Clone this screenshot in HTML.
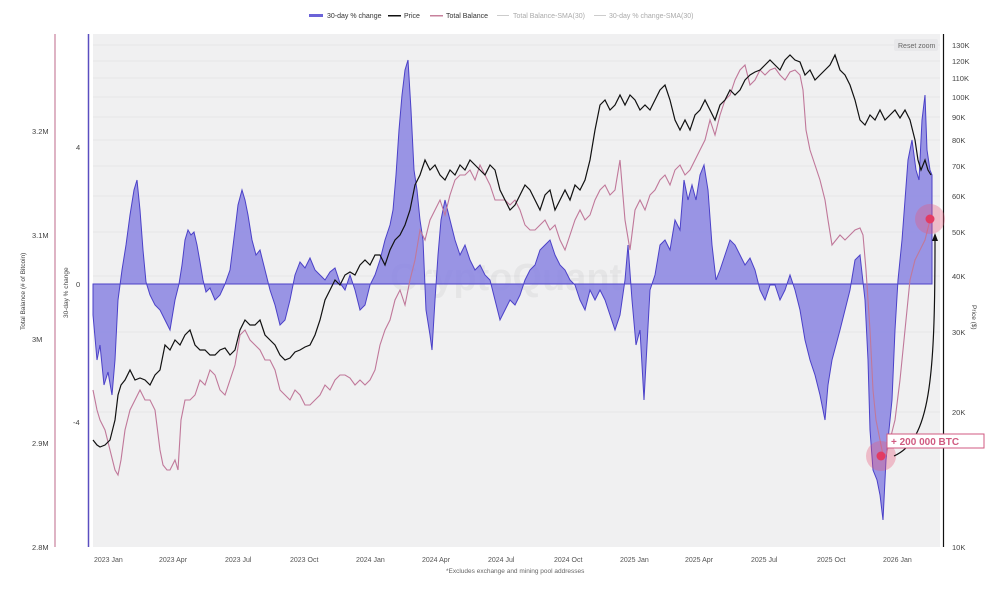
<!DOCTYPE html>
<html><head><meta charset="utf-8"><style>
body{margin:0;background:#fff;font-family:"Liberation Sans",sans-serif;}
svg text{font-family:"Liberation Sans",sans-serif;}
</style></head><body>
<svg width="1000" height="584" xmlns="http://www.w3.org/2000/svg">
<rect x="93" y="34" width="847" height="513" fill="#f0f0f1"/>
<g stroke="#e6e6e8" stroke-width="1">
<line x1="93" x2="940" y1="45" y2="45"/><line x1="93" x2="940" y1="61" y2="61"/><line x1="93" x2="940" y1="78" y2="78"/><line x1="93" x2="940" y1="97" y2="97"/><line x1="93" x2="940" y1="117" y2="117"/><line x1="93" x2="940" y1="140" y2="140"/><line x1="93" x2="940" y1="166" y2="166"/><line x1="93" x2="940" y1="196" y2="196"/><line x1="93" x2="940" y1="232" y2="232"/><line x1="93" x2="940" y1="276" y2="276"/><line x1="93" x2="940" y1="332" y2="332"/><line x1="93" x2="940" y1="412" y2="412"/>
</g>
<g font-size="7" fill="#333">
<rect x="309" y="14" width="14" height="3" fill="#6b63d8"/><text x="327" y="18">30-day % change</text>
<rect x="388" y="15" width="13" height="1.5" fill="#111"/><text x="404" y="18">Price</text>
<rect x="430" y="15" width="13" height="1.5" fill="#c7819c"/><text x="446" y="18">Total Balance</text>
<rect x="497" y="15" width="12" height="1" fill="#ccc"/><text x="513" y="18" fill="#aaa">Total Balance-SMA(30)</text>
<rect x="594" y="15" width="12" height="1" fill="#ccc"/><text x="609" y="18" fill="#aaa">30-day % change-SMA(30)</text>
</g>
<line x1="55" y1="34" x2="55" y2="547" stroke="#c7819c" stroke-width="1.2"/>
<line x1="88.5" y1="34" x2="88.5" y2="547" stroke="#5a4fc0" stroke-width="1.5"/>
<line x1="943.5" y1="34" x2="943.5" y2="547" stroke="#111" stroke-width="1.2"/>
<g font-size="7.5" fill="#444">
<text x="32" y="134">3.2M</text><text x="32" y="238">3.1M</text><text x="32" y="342">3M</text><text x="32" y="446">2.9M</text><text x="32" y="550">2.8M</text>
<text x="76" y="150">4</text><text x="76" y="287">0</text><text x="73" y="425">-4</text>
<text x="952" y="48">130K</text><text x="952" y="64">120K</text><text x="952" y="81">110K</text><text x="952" y="100">100K</text><text x="952" y="120">90K</text><text x="952" y="143">80K</text><text x="952" y="169">70K</text><text x="952" y="199">60K</text><text x="952" y="235">50K</text><text x="952" y="279">40K</text><text x="952" y="335">30K</text><text x="952" y="415">20K</text><text x="952" y="550">10K</text>
<g font-size="7" fill="#555">
<text x="94" y="562">2023 Jan</text><text x="159" y="562">2023 Apr</text><text x="225" y="562">2023 Jul</text><text x="290" y="562">2023 Oct</text><text x="356" y="562">2024 Jan</text><text x="422" y="562">2024 Apr</text><text x="488" y="562">2024 Jul</text><text x="554" y="562">2024 Oct</text><text x="620" y="562">2025 Jan</text><text x="685" y="562">2025 Apr</text><text x="751" y="562">2025 Jul</text><text x="817" y="562">2025 Oct</text><text x="883" y="562">2026 Jan</text>
</g>
<text x="446" y="573" font-size="6.5" fill="#666">*Excludes exchange and mining pool addresses</text>
<text transform="translate(25,330) rotate(-90)" font-size="6.5">Total Balance (# of Bitcoin)</text>
<text transform="translate(68,318) rotate(-90)" font-size="6.5">30-day % change</text>
<text transform="translate(972,305) rotate(90)" font-size="6.5">Price ($)</text>
</g>
<rect x="894" y="39" width="44" height="12" rx="2" fill="#e8e8ea"/>
<text x="898" y="48" font-size="7" fill="#666">Reset zoom</text>
<text x="390" y="290" font-size="38" fill="#000" opacity="0.04" font-weight="bold">CryptoQuant</text>
<polygon fill="#8a84e2" fill-opacity="0.85" stroke="#4b41c8" stroke-width="1" points="93,284 93,315 97,360 100,345 104,385 108,372 112,395 115,360 118,300 122,270 126,245 130,215 134,190 137,180 140,210 143,250 146,282 150,295 155,305 160,310 165,320 170,330 175,300 179,284 182,265 185,240 188,230 191,235 194,232 197,245 200,262 203,280 206,292 210,288 215,300 220,295 225,284 230,270 235,230 238,205 242,190 245,200 248,215 252,240 256,255 260,250 265,270 270,290 275,305 280,325 285,320 290,300 295,275 300,262 305,268 310,258 315,270 320,275 325,280 330,272 335,268 340,283 345,290 350,275 355,290 360,310 365,305 370,285 375,275 380,260 385,240 390,225 393,210 396,175 399,130 402,95 405,70 408,60 411,110 414,170 417,190 420,220 423,240 426,310 430,335 432,350 435,300 438,255 441,220 445,200 450,220 455,240 460,255 465,245 470,260 475,270 480,265 485,275 490,280 495,300 500,320 505,310 510,300 515,305 520,295 525,280 530,270 535,265 540,250 545,245 550,240 555,255 560,265 565,270 570,280 575,285 580,300 585,310 590,290 595,300 600,290 605,300 610,315 615,330 620,315 625,280 628,245 632,300 636,345 640,330 644,400 647,345 650,290 655,275 660,245 665,240 670,250 675,220 680,230 684,180 688,200 692,185 696,200 700,175 704,165 708,190 712,245 716,280 720,270 725,255 730,240 735,245 740,255 745,265 750,258 755,270 760,290 765,300 770,285 775,285 780,300 785,290 790,275 795,290 800,310 805,340 810,360 815,375 820,395 825,420 828,385 832,360 836,345 840,330 845,310 850,290 855,260 860,255 865,300 868,360 870,430 873,470 877,480 880,495 883,520 886,460 889,430 892,400 895,330 898,280 902,240 905,200 908,160 912,140 916,170 919,180 922,120 925,95 927,150 930,170 932,175 932,284"/>
<polyline fill="none" stroke="#c0789a" stroke-width="1.1" points="93,390 97,410 100,420 105,430 110,450 115,470 118,475 121,460 125,430 130,410 135,400 140,390 145,400 150,400 155,410 160,450 163,465 167,470 170,470 175,460 178,470 181,420 185,400 190,400 195,395 200,380 205,385 210,370 215,375 220,390 225,395 230,380 235,365 240,335 245,330 250,340 255,345 260,350 265,360 270,360 275,370 280,390 285,395 290,400 295,390 300,395 305,405 310,405 315,400 320,395 325,385 330,390 335,380 340,375 345,375 350,378 355,385 360,380 365,385 370,380 375,370 380,345 385,330 390,320 395,300 400,290 405,305 410,280 415,260 420,230 425,240 430,220 435,210 440,200 445,215 450,195 455,180 460,175 465,175 470,170 475,180 480,165 485,175 490,185 495,200 500,200 505,200 510,205 515,200 520,210 525,225 530,230 535,230 540,225 545,220 550,230 555,225 560,240 565,250 570,235 575,220 580,210 585,220 590,215 595,200 600,190 605,185 610,195 615,190 620,160 625,220 630,250 635,210 640,200 645,210 650,195 655,190 660,180 665,175 670,185 675,170 680,165 685,175 690,170 695,160 700,150 705,140 710,120 715,135 720,115 725,100 730,95 735,80 740,70 745,65 750,85 755,80 760,70 765,75 770,70 775,68 780,75 785,80 790,72 795,70 800,75 803,90 806,130 810,150 815,165 820,180 825,200 828,220 832,245 836,240 840,235 845,240 850,235 855,230 860,228 863,235 866,270 870,330 873,390 876,420 880,440 883,455 886,455 890,440 895,420 900,380 905,330 910,280 915,260 920,250 925,240 930,220"/>
<polyline fill="none" stroke="#111" stroke-width="1.2" points="93,440 97,445 100,447 105,445 110,440 115,420 118,395 121,385 125,380 130,370 135,380 140,378 145,380 150,385 155,375 160,370 165,345 170,350 175,340 180,345 185,335 190,330 195,345 200,350 205,350 210,355 215,355 220,350 225,348 230,355 235,350 240,330 245,320 250,325 255,325 260,320 265,335 270,340 275,345 280,355 285,360 290,358 295,352 300,350 305,347 310,345 315,335 320,320 325,300 330,290 335,280 340,285 345,275 350,272 355,275 360,265 365,260 370,265 375,255 380,255 385,265 390,250 395,240 400,235 405,225 410,210 415,185 420,175 425,160 430,170 435,165 440,175 445,180 450,170 455,175 460,165 465,170 470,160 475,165 480,170 485,175 490,165 495,170 500,190 505,200 510,210 515,205 520,195 525,185 530,190 535,200 540,210 545,195 550,190 555,210 560,200 565,190 570,200 575,185 580,190 585,180 590,160 595,130 600,105 605,100 610,110 615,105 620,95 625,105 630,95 635,100 640,110 645,105 650,110 655,100 660,90 665,85 670,100 675,120 680,130 685,120 690,130 695,115 700,110 705,100 710,110 715,120 720,105 725,100 730,90 735,95 740,90 745,80 750,75 755,72 760,70 765,65 770,60 775,65 780,70 785,60 790,55 795,60 800,62 805,75 810,70 815,80 820,75 825,70 830,65 835,55 840,70 845,75 850,85 855,100 860,120 865,125 870,115 875,120 880,110 885,120 890,115 895,110 900,118 905,110 910,120 915,140 918,160 921,170 925,160 928,170 931,175"/>
<circle cx="881" cy="456" r="15" fill="#e8587a" fill-opacity="0.35"/>
<circle cx="881" cy="456" r="4.5" fill="#e23b63"/>
<circle cx="930" cy="219" r="15" fill="#e8587a" fill-opacity="0.35"/>
<circle cx="930" cy="219" r="4.5" fill="#e23b63"/>
<path d="M894,456 C930,440 935,380 935,241" fill="none" stroke="#111" stroke-width="1.2"/>
<polygon points="935,233 932,241 938,241" fill="#111"/>
<rect x="887" y="434" width="97" height="14" fill="#fff" stroke="#d05a80" stroke-width="1"/>
<text x="891" y="445" font-size="10" font-weight="bold" fill="#d05a80">+ 200 000 BTC</text>
</svg>
</body></html>
